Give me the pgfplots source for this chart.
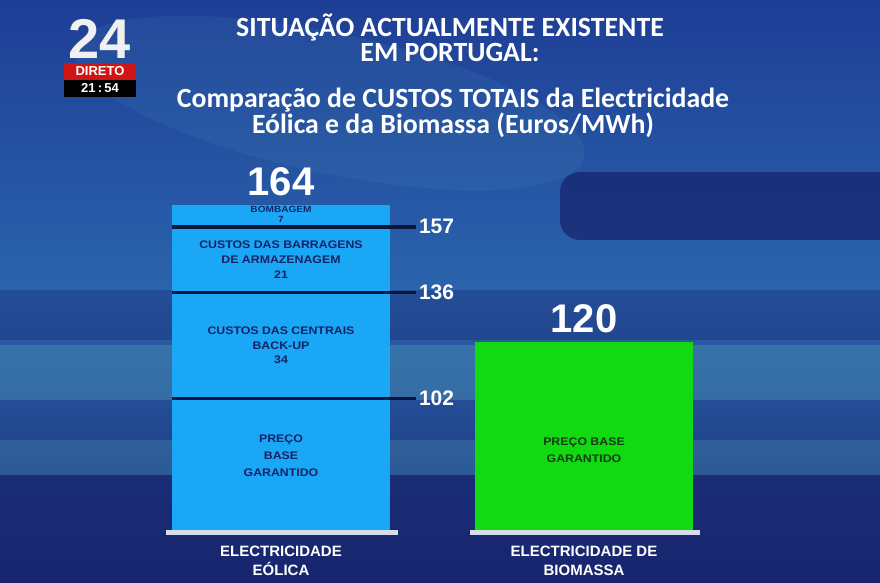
\documentclass[border=0pt]{standalone}
\usepackage{pgfplots}
\pgfplotsset{compat=1.18}
\usepackage{fontspec}
\setmainfont{Liberation Sans}
\newfontfamily\titlefont{Carlito}
\newfontfamily\widefont[FakeStretch=1.12]{Liberation Sans}

\definecolor{bgtop}{RGB}{30,62,150}
\definecolor{bgmid}{RGB}{42,100,172}
\definecolor{bgbot}{RGB}{24,40,112}
\definecolor{bandlight}{RGB}{80,155,185}
\definecolor{banddark}{RGB}{24,36,110}
\definecolor{barblue}{RGB}{26,168,246}
\definecolor{bargreen}{RGB}{18,218,18}
\definecolor{segline}{RGB}{10,22,60}
\definecolor{segtext}{RGB}{22,34,100}
\definecolor{greentext}{RGB}{20,60,20}
\definecolor{basewhite}{RGB}{214,220,236}
\definecolor{logored}{RGB}{206,22,22}

\tikzset{
  seglabel/.style={align=center, text=segtext, inner sep=0pt,
    font=\widefont\bfseries\fontsize{11}{14.5}\selectfont},
  total/.style={anchor=south, text=white, inner sep=0pt,
    font=\bfseries\fontsize{40}{40}\selectfont},
  ttl/.style={anchor=base, text=white, inner sep=0pt, text height=18pt, text depth=0pt,
    font=\titlefont\bfseries\fontsize{27.8}{27.8}\selectfont},
  segnum/.style={anchor=west, text=white, inner sep=1pt,
    font=\bfseries\fontsize{21}{21}\selectfont},
}

\begin{document}
\begin{tikzpicture}[x=1pt,y=1pt]
\useasboundingbox (0,0) rectangle (880,583);

% background
\shade[top color=bgtop, bottom color=bgbot, middle color=bgmid] (0,0) rectangle (880,583);
\fill[bandlight, opacity=0.12, rotate around={-12:(330,480)}] (330,480) ellipse (260 and 70);
\fill[banddark, opacity=0.75, rounded corners=20pt] (560,343) rectangle (900,411);
\fill[banddark, opacity=0.35] (0,243) rectangle (880,293);
\fill[bandlight, opacity=0.40] (0,183) rectangle (880,238);
\fill[bandlight, opacity=0.30] (0,108) rectangle (880,143);
\fill[banddark, opacity=0.65] (0,0) rectangle (880,108);

% channel logo
\node[anchor=base, text=white!88!gray, text height=40pt, text depth=0pt, font=\bfseries\fontsize{56}{56}\selectfont, inner sep=0pt] at (100,524) {24};
\fill[logored] (64,503) rectangle (136,520);
\node[text=white, inner sep=0pt, font=\bfseries\fontsize{13}{13}\selectfont] at (100,511.5) {DIRETO};
\fill[black] (64,486) rectangle (136,503);
\node[text=white, inner sep=0pt, font=\bfseries\fontsize{13}{13}\selectfont] at (100,494.5) {21\,:\,54};

% titles
\node[ttl] at (450,546) {SITUAÇÃO ACTUALMENTE EXISTENTE};
\node[ttl] at (450,521) {EM PORTUGAL:};
\node[ttl] at (453,475) {Comparação de CUSTOS TOTAIS da Electricidade};
\node[ttl] at (453,449) {Eólica e da Biomassa (Euros/MWh)};

\begin{axis}[
    at={(129.5pt,53pt)}, anchor=south west,
    scale only axis, width=606pt, height=375pt,
    xmin=-0.5, xmax=1.5, ymin=60, ymax=180,
    ybar stacked, bar width=218pt,
    axis x line=bottom, hide y axis,
    x axis line style={draw=none},
    xtick={0,1}, major x tick style={draw=none},
    xticklabels={{ELECTRICIDADE\\EÓLICA},{ELECTRICIDADE DE\\BIOMASSA}},
    xticklabel style={align=center, text=white, yshift=-10pt,
        font=\bfseries\fontsize{15}{19}\selectfont},
    every axis plot/.append style={draw=none},
  ]
\addplot[fill=barblue]  coordinates {(0,102) (1,0)};
\addplot[fill=bargreen] coordinates {(0,0) (1,120)};
\addplot[fill=barblue]  coordinates {(0,34) (1,0)};
\addplot[fill=barblue]  coordinates {(0,21) (1,0)};
\addplot[fill=barblue]  coordinates {(0,7) (1,0)};

% anchor points for the annotations, drawn on top after the axis
\coordinate (a1) at (axis cs:-0.38,59.2);
\coordinate (a2) at (axis cs:0.386,59.2);
\coordinate (b1) at (axis cs:0.624,59.2);
\coordinate (b2) at (axis cs:1.383,59.2);
\coordinate (l102) at (axis cs:-0.36,102);
\coordinate (r102) at (axis cs:0.445,102);
\coordinate (l136) at (axis cs:-0.36,136);
\coordinate (r136) at (axis cs:0.445,136);
\coordinate (l157) at (axis cs:-0.36,157);
\coordinate (r157) at (axis cs:0.445,157);
\coordinate (t164) at (axis cs:0,167);
\coordinate (t120) at (axis cs:1,123);
\coordinate (s7)  at (axis cs:0,161.0);
\coordinate (s21) at (axis cs:0,146.5);
\coordinate (s34) at (axis cs:0,119);
\coordinate (sb)  at (axis cs:0,83.7);
\coordinate (sg)  at (axis cs:1,85.6);
\end{axis}

\draw[basewhite, line width=5pt] (a1) -- (a2);
\draw[basewhite, line width=5pt] (b1) -- (b2);

\draw[segline, line width=3.5pt] (l102) -- (r102);
\draw[segline, line width=3.5pt] (l136) -- (r136);
\draw[segline, line width=3.5pt] (l157) -- (r157);
\node[segnum] at ([xshift=2pt]r102) {102};
\node[segnum] at ([xshift=2pt]r136) {136};
\node[segnum] at ([xshift=2pt]r157) {157};

\node[total] at (t164) {164};
\node[total] at (t120) {120};

\node[seglabel, font=\widefont\bfseries\fontsize{9}{9.5}\selectfont] at (s7) {BOMBAGEM\\7};
\node[seglabel, font=\widefont\bfseries\fontsize{11}{15}\selectfont] at (s21) {CUSTOS DAS BARRAGENS\\DE ARMAZENAGEM\\21};
\node[seglabel] at (s34) {CUSTOS DAS CENTRAIS\\BACK-UP\\34};
\node[seglabel, font=\widefont\bfseries\fontsize{11}{17}\selectfont] at (sb) {PREÇO\\BASE\\GARANTIDO};
\node[seglabel, text=greentext, font=\widefont\bfseries\fontsize{11}{17}\selectfont] at (sg) {PREÇO BASE\\GARANTIDO};
\end{tikzpicture}
\end{document}
